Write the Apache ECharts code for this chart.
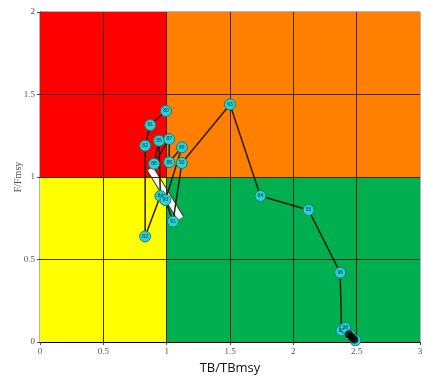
<!DOCTYPE html>
<html>
<head>
<meta charset="utf-8">
<script src="https://cdn.jsdelivr.net/npm/echarts@6/dist/echarts.min.js"></script>
<style>
  html, body { margin: 0; padding: 0; background: #fff; }
  #chart { width: 425px; height: 378px; }
</style>
</head>
<body>
<div id="chart"></div>
<script>
// trajectory
const years = ["80","81","82","83","84","85","86","87","88","89","90","91","92","93","94","95","96","97","98","99","00"];
const tbRatio = [0.995, 0.87, 0.83, 0.83, 0.95, 0.94, 0.90, 1.02, 1.02, 1.12, 0.99, 1.05, 1.12, 1.50, 1.74, 2.12, 2.37, 2.38, 2.41, 2.45, 2.49];
const fRatio  = [1.40, 1.315, 1.19, 0.64, 0.885, 1.22, 1.08, 1.23, 1.09, 1.18, 0.86, 0.73, 1.085, 1.44, 0.885, 0.80, 0.42, 0.07, 0.085, 0.04, 0.01];
const xTicks = [0.5, 1, 1.5, 2, 2.5];
const yTicks = [0.5, 1, 1.5];
// white arrow across the cluster
const arrowX = [0.87, 1.11];
const arrowY = [1.05, 0.75];

const points = tbRatio.map((x, i) => [x, fRatio[i], years[i]]);

const gridLines = xTicks.map(v => ({ xAxis: v }))
  .concat(yTicks.map(v => ({ yAxis: v })));

const myChart = echarts.init(document.getElementById('chart'));
myChart.setOption({
  animation: false,
  grid: { left: 40, right: 5, top: 12, bottom: 36, outerBoundsMode: 'none', show: true, borderColor: '#666', borderWidth: 1 },
  xAxis: {
    type: 'value', min: 0, max: 3, interval: 0.5,
    name: 'TB/TBmsy', nameLocation: 'middle', nameGap: 20, nameMoveOverlap: false,
    nameTextStyle: { fontFamily: 'Open Sans', fontSize: 13, color: '#111' },
    axisLine: { show: true, lineStyle: { color: '#000' } },
    axisTick: { show: true, length: 3, lineStyle: { color: '#444' } },
    axisLabel: { fontFamily: 'Liberation Serif', fontSize: 9, color: '#555', margin: 5 },
    splitLine: { show: false }
  },
  yAxis: {
    type: 'value', min: 0, max: 2, interval: 0.5,
    name: 'F/Fmsy', nameLocation: 'middle', nameGap: 17, nameRotate: 90, nameMoveOverlap: false,
    nameTextStyle: { fontFamily: 'Liberation Serif', fontSize: 10, color: '#555' },
    axisLine: { show: true, lineStyle: { color: '#000' } },
    axisTick: { show: true, length: 3, lineStyle: { color: '#444' } },
    axisLabel: { fontFamily: 'Liberation Serif', fontSize: 9, color: '#555', margin: 5 },
    splitLine: { show: false }
  },
  series: [
    {
      type: 'line', data: [], silent: true, z: 1,
      markArea: {
        silent: true,
        data: [
          [{ coord: [0, 1], itemStyle: { color: '#ff0000' } }, { coord: [1, 2] }],
          [{ coord: [1, 1], itemStyle: { color: '#ff8000' } }, { coord: [3, 2] }],
          [{ coord: [0, 0], itemStyle: { color: '#ffff00' } }, { coord: [1, 1] }],
          [{ coord: [1, 0], itemStyle: { color: '#00b050' } }, { coord: [3, 1] }]
        ]
      }
    },
    {
      type: 'line', data: [], silent: true, z: 2,
      markLine: {
        silent: true, symbol: 'none', label: { show: false },
        lineStyle: { color: '#3a2a10', width: 1, type: 'solid' },
        data: gridLines
      }
    },
    {
      type: 'line', z: 3, silent: true, symbol: 'none',
      data: arrowX.map((x, i) => [x, arrowY[i]]),
      lineStyle: { color: '#333', width: 8 }
    },
    {
      type: 'line', z: 4, silent: true, symbol: 'none',
      data: arrowX.map((x, i) => [x, arrowY[i]]),
      lineStyle: { color: '#fff', width: 6 }
    },
    {
      type: 'line', z: 5,
      data: points,
      lineStyle: { color: '#2a1a0a', width: 1.5 },
      symbol: 'circle', symbolSize: 11,
      itemStyle: { color: '#30d0d0', borderColor: '#108080', borderWidth: 1 },
      label: {
        show: true, position: 'inside', fontSize: 5, color: '#003050',
        formatter: p => p.value[2]
      }
    },
    {
      type: 'scatter', z: 6, silent: true,
      data: [[2.46, 0.03], [2.48, 0.015], [2.44, 0.045]],
      symbolSize: 8, itemStyle: { color: '#000' }
    }
  ]
});
</script>
</body>
</html>
